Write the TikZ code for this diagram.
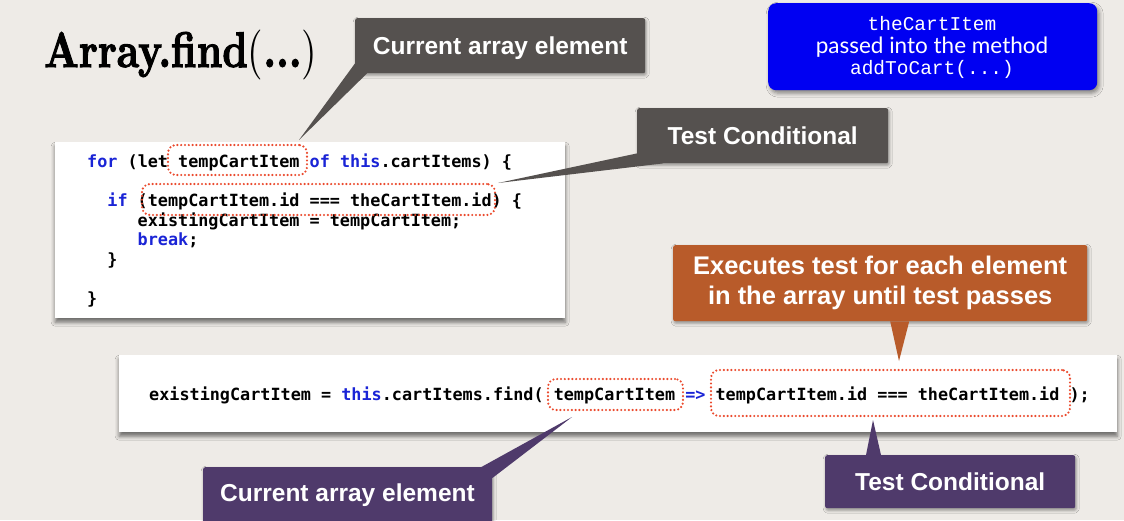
\documentclass[tikz,border=0pt]{standalone}
\usepackage{fontspec}
\usetikzlibrary{calc,shadows.blur}
\newfontfamily\codefont{DejaVu Sans Mono}
\newfontfamily\calloutfont{Liberation Sans}
\newfontfamily\typefont{Liberation Mono}
\newfontfamily\notefont{Lato}
\newfontfamily\titlebold{lmroman10-bold.otf}[FakeBold=2.2]
\newfontfamily\titlelight{lmroman10-regular.otf}
\definecolor{paper}{HTML}{EEEBE7}
\definecolor{calgray}{HTML}{55514F}
\definecolor{calorange}{HTML}{B85B2A}
\definecolor{calpurple}{HTML}{4F3A6B}
\definecolor{notebox}{HTML}{0000F2}
\definecolor{kwblue}{HTML}{1A24D6}
\definecolor{dotred}{HTML}{EB4A2E}
\newcommand{\kw}[1]{\textcolor{kwblue}{#1}}
\begin{document}
\begin{tikzpicture}[x=1pt,y=-1pt,
  codebox/.style={rectangle, fill=white, inner sep=0pt, anchor=north west,
    blur shadow={shadow xshift=0pt, shadow yshift=-4pt, shadow blur radius=4pt, shadow opacity=55}},
  codeline/.style={anchor=base west, inner sep=0pt, text=black,
    font=\codefont\bfseries\fontsize{16.8}{19.6}\selectfont},
  dotbox/.style={rectangle, draw=dotred, line width=2.4pt, line cap=round,
    dash pattern=on 0pt off 3.8pt, rounded corners=8pt, inner sep=0pt},
  callbox/.style={rectangle, rounded corners=2pt, inner sep=0pt, anchor=north west,
    blur shadow={shadow xshift=1pt, shadow yshift=-2pt, shadow blur radius=3pt, shadow opacity=40}},
  calltext/.style={anchor=base, inner sep=0pt, text=white,
    font=\calloutfont\bfseries\fontsize{24.5}{30}\selectfont},
  notetext/.style={anchor=base, inner sep=0pt, text=white}
]
\fill[paper] (0,0) rectangle (1124,520);
\useasboundingbox (0,0) rectangle (1124,520);

% heading
\node[anchor=base west, inner sep=0pt] (title) at (44,67)
  {\fontsize{50}{52}\selectfont\scalebox{0.8}[1]{\titlebold Array.find\titlelight(\titlebold...\titlelight)}};

% note box, top right
\node[rectangle, rounded corners=8pt, fill=notebox, inner sep=0pt, anchor=north west,
  minimum width=329pt, minimum height=87pt,
  blur shadow={shadow xshift=2pt, shadow yshift=-3pt, shadow blur radius=4pt, shadow opacity=45}]
  (note) at (768,3) {};
\node[notetext, font=\typefont\fontsize{19.5}{20}\selectfont] (n1) at (932,30) {theCartItem};
\node[notetext, font=\notefont\fontsize{22.5}{24}\selectfont] (n2) at (932,53) {passed into the method};
\node[notetext, font=\typefont\fontsize{19.5}{20}\selectfont] (n3) at (932,74) {addToCart(...)};

% for-loop code
\node[codebox, minimum width=510pt, minimum height=176pt] (code1) at (55,142) {};
\node[codeline] (l1) at (87,167) {\kw{for} (let tempCartItem \kw{of this}.cartItems) \{};
\node[codeline] (l2) at (107.2,206) {\kw{if} (tempCartItem.id === theCartItem.id) \{};
\node[codeline] (l3) at (137.5,226) {existingCartItem = tempCartItem;};
\node[codeline] (l4) at (137.5,245) {\kw{break};};
\node[codeline] (l5) at (107.2,265) {\}};
\node[codeline] (l6) at (87,304) {\}};
\node[dotbox, minimum width=139pt, minimum height=30pt] (d1) at (237.5,160) {};
\node[dotbox, minimum width=353pt, minimum height=31pt] (d2) at (318.5,199.5) {};

% find() code
\node[codebox, minimum width=998pt, minimum height=77pt] (code2) at (119,355) {};
\node[codeline] (l7) at (149,400) {existingCartItem = \kw{this}.cartItems.find( tempCartItem \kw{=>} tempCartItem.id === theCartItem.id );};
\node[dotbox, minimum width=135pt, minimum height=31pt] (d3) at (615.5,394.5) {};
\node[dotbox, minimum width=359pt, minimum height=46pt] (d4) at (890.5,393) {};

% pointer tips
\coordinate (tip1) at (299,140);
\coordinate (tip2) at (498,183);
\coordinate (tip3) at (899,361);
\coordinate (tip4) at (873,420);
\coordinate (tip5) at (572,417);

% callout: current element (loop)
\node[callbox, fill=calgray, minimum width=290pt, minimum height=55pt] (c1) at (355,18) {};
\fill[calgray] (tip1) -- ($(c1.south west)+(0,-10)$) -- ($(c1.south west)+(12,0)$) -- cycle;
\node[calltext] (c1t) at ($(c1.center)+(0,8.5)$) {Current array element};

% callout: test conditional (loop)
\node[callbox, fill=calgray, minimum width=251pt, minimum height=55pt] (c2) at (637,108) {};
\fill[calgray] (tip2) -- ($(c2.south west)+(0,-10)$) -- ($(c2.south west)+(26,0)$) -- cycle;
\node[calltext] (c2t) at ($(c2.center)+(0,8.5)$) {Test Conditional};

% callout: iteration
\node[callbox, fill=calorange, minimum width=414pt, minimum height=76pt] (c3) at (673,245) {};
\fill[calorange] (tip3) -- ($(c3.south)+(10,0)$) -- ($(c3.south)+(29,0)$) -- cycle;
\node[calltext, font=\calloutfont\bfseries\fontsize{25.5}{30}\selectfont] (c3a) at ($(c3.center)+(0,-8.5)$) {Executes test for each element};
\node[calltext, font=\calloutfont\bfseries\fontsize{25.5}{30}\selectfont] (c3b) at ($(c3.center)+(0,21.5)$) {in the array until test passes};

% callout: test conditional (find)
\node[callbox, fill=calpurple, minimum width=250pt, minimum height=53pt] (c4) at (825,455) {};
\fill[calpurple] (tip4) -- ($(c4.north west)+(41,0)$) -- ($(c4.north west)+(56,0)$) -- cycle;
\node[calltext] (c4t) at ($(c4.center)+(0,8.5)$) {Test Conditional};

% callout: current element (find)
\node[callbox, fill=calpurple, minimum width=289pt, minimum height=70pt] (c5) at (203,467) {};
\fill[calpurple] (tip5) -- ($(c5.north east)+(-11,0)$) -- ($(c5.north east)+(0,11)$) -- cycle;
\node[calltext] (c5t) at (347.5,501) {Current array element};
\end{tikzpicture}
\end{document}
